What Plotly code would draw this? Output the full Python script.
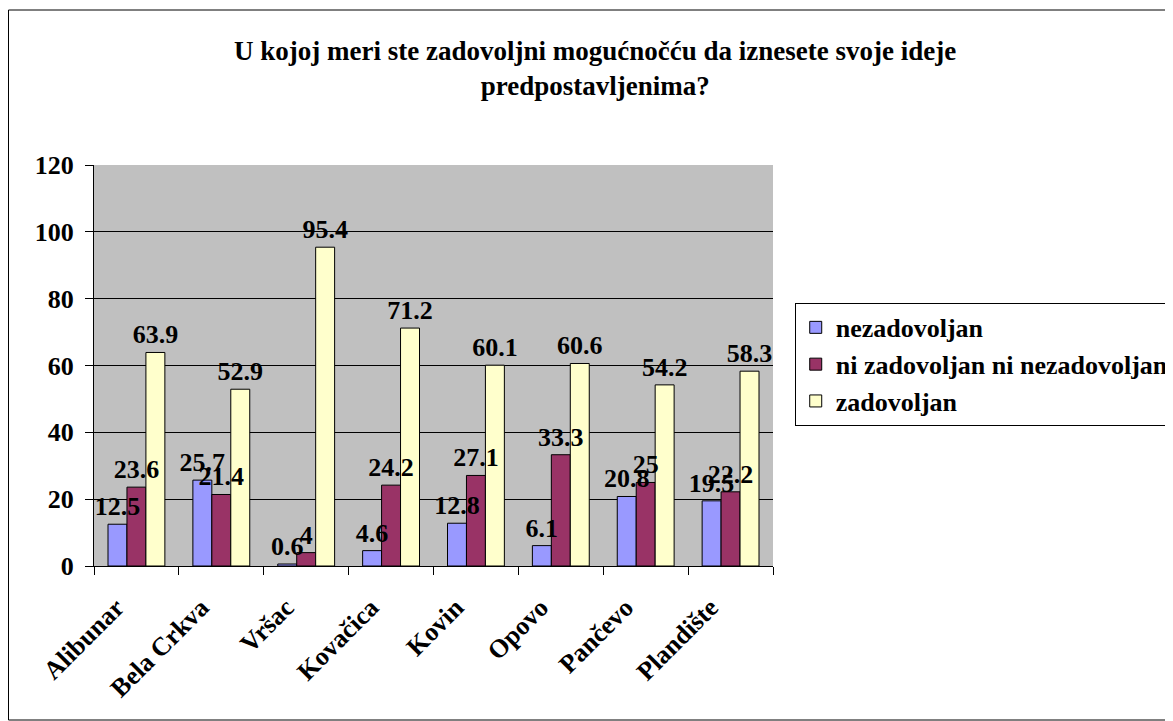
import plotly.graph_objects as go

# ================================
# Dados
# ================================
opstine = ['Alibunar', 'Bela Crkva', 'Vršac', 'Kovačica', 'Kovin', 'Opovo', 'Pančevo', 'Plandište']
nezadovoljan = [12.5, 25.7, 0.6, 4.6, 12.8, 6.1, 20.8, 19.5]
ni_ni = [23.6, 21.4, 4, 24.2, 27.1, 33.3, 25, 22.2]
zadovoljan = [63.9, 52.9, 95.4, 71.2, 60.1, 60.6, 54.2, 58.3]
y_ticks = [0, 20, 40, 60, 80, 100, 120]

FONT = "'Liberation Serif', 'Times New Roman', serif"

# ================================
# Grafikon
# ================================
fig = go.Figure()
serije = [
    ('nezadovoljan', nezadovoljan, '#9999FF'),
    ('ni zadovoljan ni nezadovoljan', ni_ni, '#993366'),
    ('zadovoljan', zadovoljan, '#FFFFCC'),
]
# stubici
for i, (ime, vrednosti, boja) in enumerate(serije):
    fig.add_trace(go.Bar(
        x=opstine, y=vrednosti, name=ime, offsetgroup=str(i),
        marker=dict(color=boja, line=dict(color='black', width=1)),
    ))
# natpisi iznad svih stubica (posebni tragovi da ih stubici ne prekriju)
for i, (ime, vrednosti, boja) in enumerate(serije):
    fig.add_trace(go.Bar(
        x=opstine, y=vrednosti, offsetgroup=str(i), showlegend=False,
        marker=dict(color='rgba(0,0,0,0)', line=dict(width=0)),
        text=[str(v) for v in vrednosti], textposition='outside',
        constraintext='none', hoverinfo='skip',
        textfont=dict(family=FONT, size=26, color='black', weight='bold'),
        cliponaxis=False,
    ))

# stranica ima 8px margine, pa je figura za toliko manja
fig.update_layout(
    width=1165, height=713,
    margin=dict(l=86, r=400, t=157, b=155, autoexpand=False),
    paper_bgcolor='white', plot_bgcolor='#C0C0C0',
    barmode='group', bargap=0.33, bargroupgap=0,
    font=dict(family=FONT, size=24, color='black'),
    title=dict(
        text='<b>U kojoj meri ste zadovoljni mogućnočću da iznesete svoje ideje<br>predpostavljenima?</b>',
        x=0.504, xanchor='center', y=1 - 52 / 713, yanchor='top',
        font=dict(family=FONT, size=27, color='black'),
    ),
    legend=dict(
        x=1.032, xanchor='left', y=0.656, yanchor='top',
        bordercolor='black', borderwidth=1, bgcolor='white',
        font=dict(family=FONT, size=26, color='black', weight='bold'),
    ),
    showlegend=True,
)
fig.update_xaxes(
    tickson='boundaries', ticks='outside', ticklen=8, tickcolor='black',
    showline=True, linecolor='black', linewidth=1,
    tickangle=-45, tickfont=dict(family=FONT, size=26, weight='bold'),
    ticklabelshift=-20, ticklabelstandoff=15,
    showgrid=False,
)
fig.update_yaxes(
    range=[0, 120], tickvals=y_ticks, ticks='outside', ticklen=8, tickcolor='black',
    showline=True, linecolor='black', linewidth=1,
    gridcolor='black', gridwidth=1, zeroline=False,
    tickfont=dict(family=FONT, size=26, weight='bold'),
    ticklabelstandoff=6,
)
# okvir oko celog grafikona
fig.add_shape(type='rect', xref='paper', yref='paper',
              x0=(0.5 - 86) / 679, x1=(1175 - 86) / 679,
              y0=(558 - 712) / 401, y1=(558 - 2) / 401,
              line=dict(color='black', width=1))

fig.write_html('out.html')
